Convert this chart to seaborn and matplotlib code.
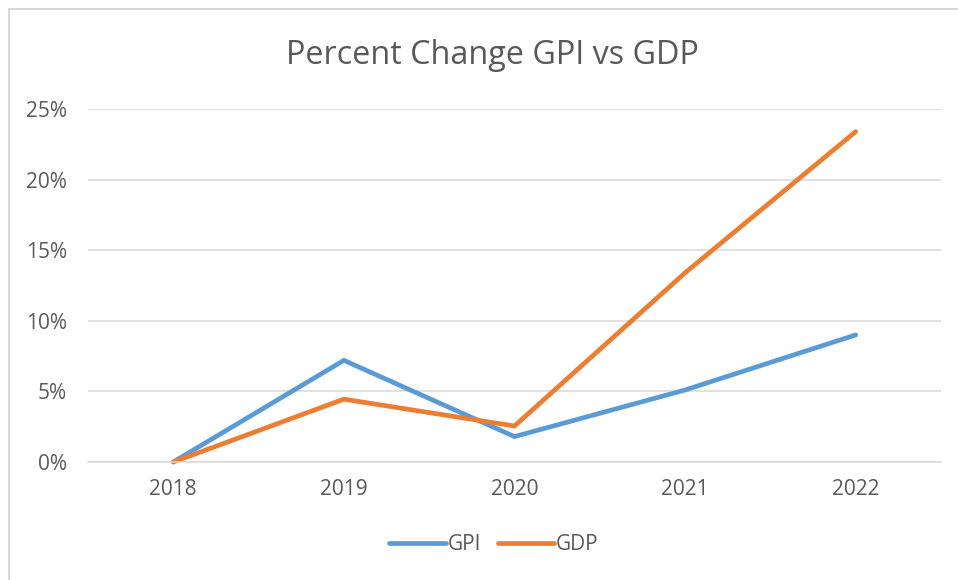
import pandas as pd
import matplotlib.pyplot as plt
import seaborn as sns
from matplotlib.lines import Line2D
from matplotlib.ticker import PercentFormatter

# values (percent change vs 2018)
years = ['2018', '2019', '2020', '2021', '2022']
gpi = [0.0, 7.2, 1.8, 5.1, 9.0]
gdp = [0.0, 4.45, 2.55, 13.4, 23.4]
series = ['GPI', 'GDP']
colors = ['#5B9BD5', '#ED7D31']

df = pd.DataFrame({
    'year': years * 2,
    'value': gpi + gdp,
    'series': [series[0]] * len(years) + [series[1]] * len(years),
})

sns.set_style('white')
plt.rcParams['font.family'] = ['Open Sans', 'DejaVu Sans']

fig = plt.figure(figsize=(9.58, 5.8), dpi=100)
ax = fig.add_axes([88 / 958, 1 - 462 / 580, 853 / 958, 353 / 580])

sns.lineplot(data=df, x='year', y='value', hue='series', palette=colors,
             linewidth=3.4, ax=ax, sort=False, legend=False,
             solid_capstyle='round', solid_joinstyle='miter')
for ln in ax.lines:
    ln.set_clip_on(False)

ax.set_xlim(-0.5, len(years) - 0.5)
ax.set_ylim(0, 25)
ax.set_yticks([0, 5, 10, 15, 20, 25])
ax.yaxis.set_major_formatter(PercentFormatter(decimals=0))
ax.grid(axis='y', color='#D9D9D9', linewidth=1.1)
ax.set_axisbelow(True)
for s in ['top', 'right', 'left']:
    ax.spines[s].set_visible(False)
ax.spines['bottom'].set_color('#D9D9D9')
ax.spines['bottom'].set_linewidth(1.1)
ax.tick_params(axis='both', length=0, labelsize=15, labelcolor='#595959')
ax.tick_params(axis='x', pad=12)
ax.tick_params(axis='y', pad=15)
ax.set_xlabel('')
ax.set_ylabel('')

fig.text(492 / 958, 1 - 64 / 580, 'Percent Change GPI vs GDP', ha='center', va='baseline',
         fontsize=23.3, color='#595959')

handles = [Line2D([0], [0], color=c, linewidth=3.4, solid_capstyle='round') for c in colors]
fig.legend(handles, series, loc='center', bbox_to_anchor=(494 / 958, 1 - 545 / 580), ncol=2,
           frameon=False, fontsize=15, labelcolor='#595959', handlelength=2.7,
           handletextpad=0.1, columnspacing=0.8)

# chart border
fig.add_artist(Line2D([9 / 958, 1], [1 - 9 / 580, 1 - 9 / 580], color='#D9D9D9', linewidth=1.5))
fig.add_artist(Line2D([9 / 958, 9 / 958], [0, 1 - 9 / 580], color='#D9D9D9', linewidth=1.5))

fig.savefig('out.png', dpi=100)
